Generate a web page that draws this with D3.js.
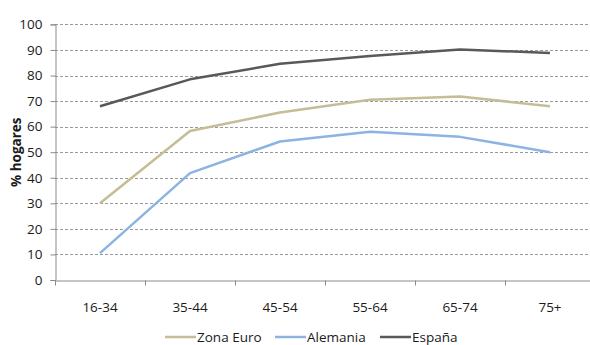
<!DOCTYPE html>
<html>
<head>
<meta charset="utf-8">
<script src="https://cdn.jsdelivr.net/npm/d3@7"></script>
<style>
  html, body { margin: 0; padding: 0; background: #fff; }
  svg { display: block; font-family: "Open Sans", "Liberation Sans", sans-serif; }
</style>
</head>
<body>
<svg id="chart" width="590" height="345"></svg>
<script>
// Age groups on the x axis
const categories = ["16-34", "35-44", "45-54", "55-64", "65-74", "75+"];
// Share of households (%) per series
const zonaEuro = [30, 58.3, 65.5, 70.5, 71.8, 68];
const alemania = [10.5, 41.8, 54.2, 58, 56, 50];
const espana   = [68, 78.5, 84.6, 87.6, 90.2, 88.8];
const seriesNames = ["Zona Euro", "Alemania", "España"];
const yTicks = [0, 10, 20, 30, 40, 50, 60, 70, 80, 90, 100];

const seriesList = [
  { name: seriesNames[0], values: zonaEuro, color: "#c4bd97" },
  { name: seriesNames[1], values: alemania, color: "#8db3e2" },
  { name: seriesNames[2], values: espana,   color: "#595959" }
];

const svg = d3.select("#chart");
const plotLeft = 55, plotRight = 595, plotTop = 24.4, plotBottom = 280;

const x = d3.scaleBand().domain(categories).range([plotLeft, plotRight]);
const y = d3.scaleLinear().domain([0, 100]).range([plotBottom, plotTop]);

// dashed horizontal gridlines
svg.append("g")
  .selectAll("line")
  .data(yTicks.filter(d => d > 0))
  .join("line")
  .attr("x1", plotLeft).attr("x2", 590)
  .attr("y1", d => Math.round(y(d)) + 0.5).attr("y2", d => Math.round(y(d)) + 0.5)
  .attr("stroke", "#9a9a9a")
  .attr("stroke-width", 1)
  .attr("stroke-dasharray", "3,2");

// y axis
const yAxis = d3.axisLeft(y).tickValues(yTicks).tickSize(5).tickPadding(8);
const gy = svg.append("g").attr("transform", `translate(${plotLeft + 0.5},0)`).call(yAxis);
gy.select(".domain").attr("stroke", "#8a8a8a");
gy.selectAll(".tick line").attr("stroke", "#8a8a8a");
gy.selectAll(".tick text")
  .attr("font-size", 13.5).attr("fill", "#1a1a1a")
  .attr("font-family", "'Open Sans', sans-serif");

// x axis with ticks between categories
const gx = svg.append("g").attr("transform", `translate(0,${Math.round(plotBottom) + 0.5})`)
  .call(d3.axisBottom(x).tickSize(0).tickPadding(22));
gx.select(".domain").attr("stroke", "#8a8a8a");
gx.selectAll(".tick text")
  .attr("font-size", 13.5).attr("fill", "#1a1a1a")
  .attr("font-family", "'Open Sans', sans-serif");
gx.append("g")
  .selectAll("line")
  .data(categories)
  .join("line")
  .attr("x1", d => Math.round(x(d)) + 0.5).attr("x2", d => Math.round(x(d)) + 0.5)
  .attr("y1", 0).attr("y2", 5)
  .attr("stroke", "#8a8a8a");

// y axis title
svg.append("text")
  .attr("transform", `translate(21,${(plotTop + plotBottom) / 2}) rotate(-90)`)
  .attr("text-anchor", "middle")
  .attr("font-size", 13.5)
  .attr("font-weight", "bold")
  .attr("fill", "#1a1a1a")
  .text("% hogares");

// series lines
const line = d3.line()
  .x((d, i) => x(categories[i]) + x.bandwidth() / 2)
  .y(d => y(d));

svg.append("g")
  .selectAll("path")
  .data(seriesList)
  .join("path")
  .attr("d", d => line(d.values))
  .attr("fill", "none")
  .attr("stroke", d => d.color)
  .attr("stroke-width", 2.5)
  .attr("stroke-linejoin", "round");

// legend
const legendX = [165, 275, 380];
const lg = svg.append("g").selectAll("g")
  .data(seriesList)
  .join("g")
  .attr("transform", (d, i) => `translate(${legendX[i]},337)`);
lg.append("line")
  .attr("x1", 0).attr("x2", 31)
  .attr("stroke", d => d.color)
  .attr("stroke-width", 2.5);
lg.append("text")
  .attr("x", 32).attr("y", 5)
  .attr("font-size", 13.5)
  .attr("fill", "#1a1a1a")
  .text(d => d.name);
</script>
</body>
</html>
